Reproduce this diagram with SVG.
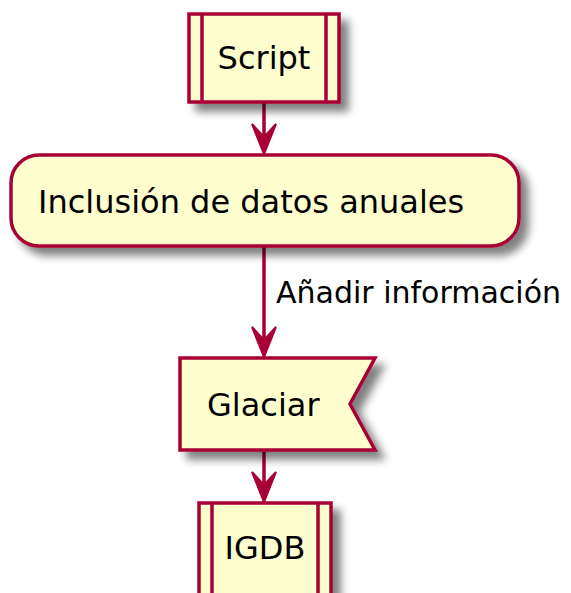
<svg xmlns="http://www.w3.org/2000/svg" width="571" height="593" viewBox="0 0 571 593">
<defs>
<filter id="sh" x="-20%" y="-20%" width="150%" height="150%">
<feGaussianBlur in="SourceAlpha" stdDeviation="4"/>
<feOffset dx="8" dy="8" result="b"/>
<feComponentTransfer><feFuncA type="linear" slope="0.5"/></feComponentTransfer>
<feMerge><feMergeNode/><feMergeNode in="SourceGraphic"/></feMerge>
</filter>
<style>
.n{fill:#FEFECE;stroke:#A80036;stroke-width:3.5;filter:url(#sh)}
.l{stroke:#A80036;stroke-width:3.5;fill:none}
.t{font-family:"DejaVu Sans",sans-serif;font-size:32px;fill:#000}
.c{stroke:#A80036;stroke-width:3.5;fill:none}
.h{fill:#A80036;stroke:#A80036;stroke-width:2}
</style>
</defs>
<g id="connectors">
<line class="c" x1="264" y1="102" x2="264" y2="152"/>
<path class="h" d="M252,124 L264,154 L276,124 L264,137 Z"/>
<line class="c" x1="264" y1="246" x2="264" y2="355"/>
<path class="h" d="M252,327 L264,357 L276,327 L264,340 Z"/>
<line class="c" x1="264" y1="450" x2="264" y2="500"/>
<path class="h" d="M252,472 L264,502 L276,472 L264,485 Z"/>
<text class="t" x="276" y="303" style="font-size:30px">Añadir información</text>
</g>
<g id="script">
<rect class="n" x="189" y="14" width="150" height="88"/>
<line class="l" x1="202" y1="14" x2="202" y2="102"/>
<line class="l" x1="326" y1="14" x2="326" y2="102"/>
<text class="t" x="264" y="69" text-anchor="middle">Script</text>
</g>
<g id="inclusion">
<rect class="n" x="11" y="155" width="508" height="91" rx="28" ry="28"/>
<text class="t" x="38" y="213">Inclusión de datos anuales</text>
</g>
<g id="glaciar">
<polygon class="n" points="180,358 375,358 350,404 375,450 180,450"/>
<text class="t" x="207" y="416">Glaciar</text>
</g>
<g id="igdb">
<rect class="n" x="199" y="503" width="132" height="100"/>
<line class="l" x1="212" y1="503" x2="212" y2="603"/>
<line class="l" x1="318" y1="503" x2="318" y2="603"/>
<text class="t" x="265" y="559" text-anchor="middle">IGDB</text>
</g>
</svg>
